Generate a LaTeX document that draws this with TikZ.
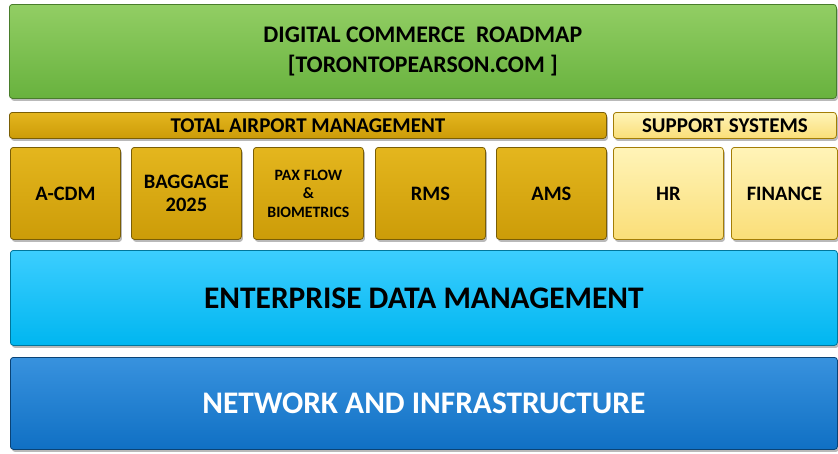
\documentclass[tikz,border=0pt]{standalone}
\usepackage{fontspec}
\setmainfont{Carlito}
\usetikzlibrary{shadows}

\definecolor{roadgreen}{RGB}{104,178,62}
\definecolor{roadgreenhi}{RGB}{146,206,100}
\definecolor{tamgold}{RGB}{204,156,8}
\definecolor{tamgoldhi}{RGB}{228,182,30}
\definecolor{suppale}{RGB}{250,222,120}
\definecolor{suppalehi}{RGB}{255,244,184}
\definecolor{edmblue}{RGB}{0,182,240}
\definecolor{edmbluehi}{RGB}{60,206,255}
\definecolor{netblue}{RGB}{16,112,196}
\definecolor{netbluehi}{RGB}{56,146,222}

\tikzset{
  layer/.style={anchor=north west, inner sep=0pt, align=center,
    rounded corners=3pt, line width=0.8pt, font=\bfseries,
    drop shadow={shadow xshift=1.5pt, shadow yshift=-2.5pt, opacity=0.55}},
  greenbox/.style={layer, draw=roadgreen!70!black, top color=roadgreenhi, bottom color=roadgreen},
  goldbox/.style={layer, draw=tamgold!60!black, top color=tamgoldhi, bottom color=tamgold},
  palebox/.style={layer, draw=tamgold!80!black, top color=suppalehi, bottom color=suppale},
  lightbox/.style={layer, draw=edmblue!65!black, top color=edmbluehi, bottom color=edmblue},
  darkbox/.style={layer, draw=netblue!60!black, top color=netbluehi, bottom color=netblue, text=white},
  barfont/.style={font=\bfseries\fontsize{21}{22}\selectfont},
  tilefont/.style={font=\bfseries\fontsize{20.5}{23}\selectfont},
}

\begin{document}
\begin{tikzpicture}[x=1pt,y=-1pt]
   \useasboundingbox (0,0) rectangle (838,453);

   % top layer
   \node[greenbox, minimum width=827pt, minimum height=94pt,
         font=\bfseries\fontsize{23.8}{30}\selectfont] (roadmap) at (9,4)
         {DIGITAL COMMERCE\ \ ROADMAP\\ {[TORONTOPEARSON.COM ]}};

   % headers
   \node[goldbox, barfont, minimum width=597pt, minimum height=26pt] (tam) at (9,112)
         {TOTAL AIRPORT MANAGEMENT};
   \node[palebox, barfont, minimum width=223pt, minimum height=26pt] (support) at (613,112)
         {SUPPORT SYSTEMS};

   % tiles
   \node[goldbox, tilefont, minimum width=110pt, minimum height=92pt] (acdm) at (10,147) {A-CDM};
   \node[goldbox, tilefont, minimum width=110pt, minimum height=92pt] (baggage) at (131,147) {BAGGAGE\\2025};
   \node[goldbox, font=\bfseries\fontsize{15.8}{18.5}\selectfont,
         minimum width=110pt, minimum height=92pt] (paxflow) at (253,147) {PAX FLOW\\\&\\BIOMETRICS};
   \node[goldbox, tilefont, minimum width=110pt, minimum height=92pt] (rms) at (375,147) {RMS};
   \node[goldbox, tilefont, minimum width=110pt, minimum height=92pt] (ams) at (496,147) {AMS};
   \node[palebox, tilefont, minimum width=110pt, minimum height=92pt] (hr) at (613,147) {HR};
   \node[palebox, tilefont, minimum width=106pt, minimum height=92pt] (finance) at (731,147) {FINANCE};

   % base layers
   \node[lightbox, font=\bfseries\fontsize{31.4}{34}\selectfont,
         minimum width=827pt, minimum height=95pt] (edm) at (10,250) {ENTERPRISE DATA MANAGEMENT};
   \node[darkbox, font=\bfseries\fontsize{31.4}{34}\selectfont,
         minimum width=827pt, minimum height=92pt] (network) at (10,357) {NETWORK AND INFRASTRUCTURE};
\end{tikzpicture}
\end{document}
